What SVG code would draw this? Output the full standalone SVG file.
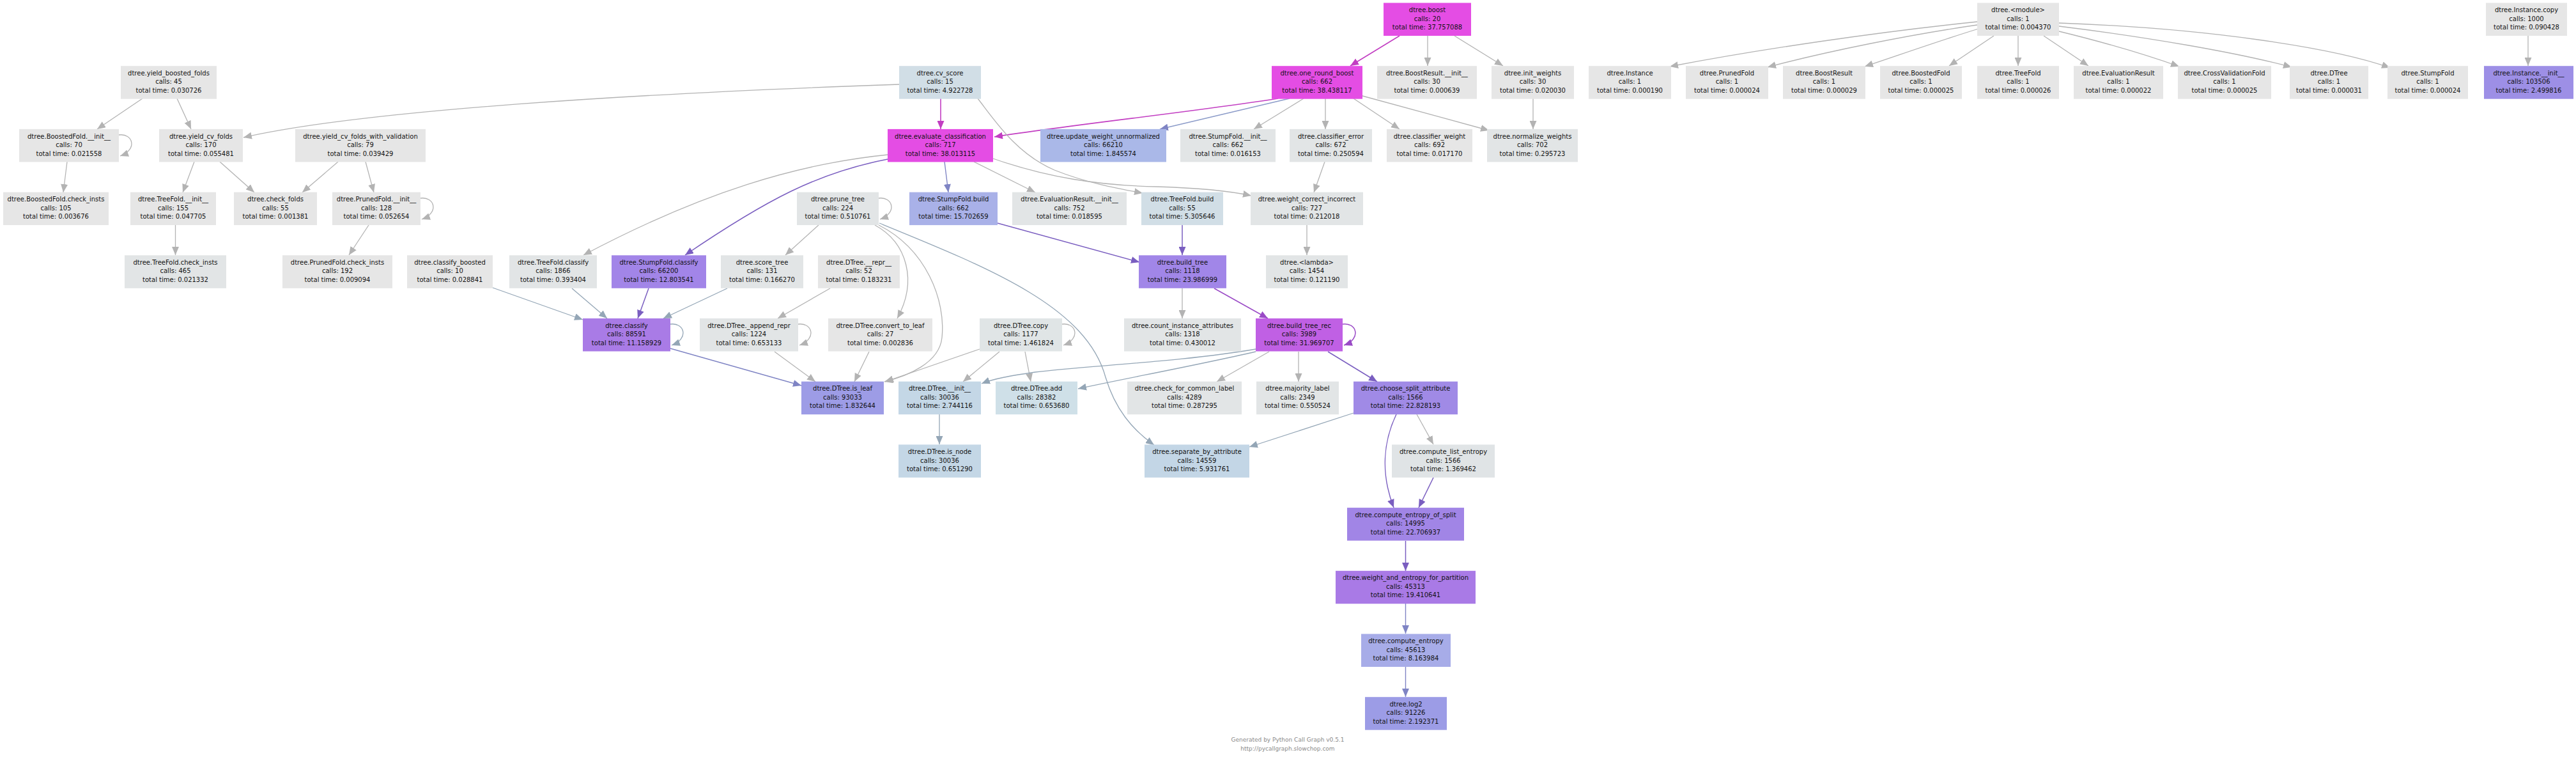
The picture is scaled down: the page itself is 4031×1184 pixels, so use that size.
<svg xmlns="http://www.w3.org/2000/svg" width="4031" height="1184" viewBox="0 0 4031 1184">
<style>
.t{font-family:"DejaVu Sans","Liberation Sans",sans-serif;font-size:10px;text-anchor:middle;fill:#111}
.f{font-family:"DejaVu Sans","Liberation Sans",sans-serif;font-size:9px;text-anchor:middle;fill:#8a8a8a}
.e{fill:none;stroke-width:1.3}
.G{stroke:#b3b3b3;marker-end:url(#mG)}
.M{stroke:#c23ec2;marker-end:url(#mM);stroke-width:1.6}
.P{stroke:#7a5ec0;marker-end:url(#mP);stroke-width:1.5}
.B{stroke:#7f84c4;marker-end:url(#mB);stroke-width:1.4}
.S{stroke:#94a6b6;marker-end:url(#mS)}
.R{stroke:#9a4ac6;marker-end:url(#mR);stroke-width:1.5}
.gr{fill:#e6e6e6}.gb{fill:#e2e5e6}.mag{fill:#e44de4}.lb{fill:#d1dee6}.lb2{fill:#c4d7e6}
</style>
<defs>
<marker id="mG" markerUnits="userSpaceOnUse" markerWidth="13" markerHeight="11" viewBox="0 0 13 11" refX="13" refY="5.5" orient="auto"><path d="M0,0L13,5.5L0,11z" fill="#b3b3b3"/></marker>
<marker id="mM" markerUnits="userSpaceOnUse" markerWidth="13" markerHeight="11" viewBox="0 0 13 11" refX="13" refY="5.5" orient="auto"><path d="M0,0L13,5.5L0,11z" fill="#c23ec2"/></marker>
<marker id="mP" markerUnits="userSpaceOnUse" markerWidth="13" markerHeight="11" viewBox="0 0 13 11" refX="13" refY="5.5" orient="auto"><path d="M0,0L13,5.5L0,11z" fill="#7a5ec0"/></marker>
<marker id="mB" markerUnits="userSpaceOnUse" markerWidth="13" markerHeight="11" viewBox="0 0 13 11" refX="13" refY="5.5" orient="auto"><path d="M0,0L13,5.5L0,11z" fill="#7f84c4"/></marker>
<marker id="mS" markerUnits="userSpaceOnUse" markerWidth="13" markerHeight="11" viewBox="0 0 13 11" refX="13" refY="5.5" orient="auto"><path d="M0,0L13,5.5L0,11z" fill="#94a6b6"/></marker>
<marker id="mR" markerUnits="userSpaceOnUse" markerWidth="13" markerHeight="11" viewBox="0 0 13 11" refX="13" refY="5.5" orient="auto"><path d="M0,0L13,5.5L0,11z" fill="#9a4ac6"/></marker>
</defs>
<rect width="4031" height="1184" fill="#ffffff"/>
<g id="edges">
<path class="e M" d="M2190,56 L2113,103"/>
<path class="e G" d="M2234,56 L2234,103"/>
<path class="e G" d="M2276,56 L2352,103"/>
<path class="e G" d="M3094,34 C2940,50 2760,76 2613,104"/>
<path class="e G" d="M3094,39 C2990,54 2860,80 2766,105"/>
<path class="e G" d="M3096,45 C3040,62 2975,85 2918,104"/>
<path class="e G" d="M3120,56 L3050,103"/>
<path class="e G" d="M3158,56 L3158,103"/>
<path class="e G" d="M3198,56 L3268,103"/>
<path class="e G" d="M3222,49 C3300,68 3365,88 3410,104"/>
<path class="e G" d="M3222,41 C3360,58 3500,82 3586,105"/>
<path class="e G" d="M3222,36 C3450,44 3650,74 3740,106"/>
<path class="e G" d="M3956,56 L3956,103"/>
<path class="e M" d="M2000,154 C1860,176 1700,192 1556,214"/>
<path class="e" stroke="#8a9ac8" stroke-width="1.4" marker-end="url(#mB)" d="M2018,154 L1815,202"/>
<path class="e G" d="M2040,154 L1962,202"/>
<path class="e G" d="M2074,154 L2074,202"/>
<path class="e G" d="M2118,154 L2190,202"/>
<path class="e G" d="M2132,150 C2190,166 2265,186 2330,204"/>
<path class="e G" d="M2399,154 L2399,202"/>
<path class="e M" d="M1472,154 L1472,202"/>
<path class="e G" d="M1407,132 C1000,146 570,172 381,215"/>
<path class="e G" d="M1530,154 C1558,190 1590,240 1650,266 C1700,286 1750,295 1788,302"/>
<path class="e G" d="M1554,248 C1640,278 1720,290 1810,292 C1880,294 1925,299 1958,306"/>
<path class="e B" d="M1478,253 L1484,301"/>
<path class="e G" d="M1524,253 L1620,301"/>
<path class="e G" d="M1389,242 C1250,256 1100,300 913,399"/>
<path class="e P" d="M1389,249 C1280,270 1200,312 1072,399"/>
<path class="e G" d="M223,154 L152,202"/>
<path class="e G" d="M277,154 L299,202"/>
<path class="e G" d="M186,211 C208,208 216,234 188,244"/>
<path class="e G" d="M105,253 L99,301"/>
<path class="e G" d="M304,253 L286,301"/>
<path class="e G" d="M344,253 L398,301"/>
<path class="e G" d="M529,253 L473,301"/>
<path class="e G" d="M572,253 L585,301"/>
<path class="e G" d="M658,310 C680,307 688,333 660,343"/>
<path class="e G" d="M274.5,352 L274.5,399"/>
<path class="e G" d="M577,352 L546,399"/>
<path class="e S" d="M771,450 L912,500"/>
<path class="e S" d="M895,451 L950,498"/>
<path class="e P" d="M1015,451 L998,498"/>
<path class="e S" d="M1138,451 L1038,498"/>
<path class="e S" d="M1049,507 C1071,504 1079,530 1051,540"/>
<path class="e B" d="M1049,545 L1254,603"/>
<path class="e G" d="M1375,310 C1397,307 1405,333 1377,343"/>
<path class="e G" d="M1281,352 L1229,399"/>
<path class="e G" d="M1369,352 C1420,380 1436,440 1404,498"/>
<path class="e G" d="M1375,352 C1450,390 1480,470 1474,528 C1470,568 1420,588 1384,597"/>
<path class="e S" d="M1376,349 C1550,420 1700,480 1730,590 C1745,640 1772,672 1806,696"/>
<path class="e G" d="M1299,451 L1217,498"/>
<path class="e G" d="M1249,507 C1271,504 1279,530 1251,540"/>
<path class="e G" d="M1212,550 L1276,597"/>
<path class="e G" d="M1360,550 L1337,597"/>
<path class="e G" d="M1662,507 C1684,504 1692,530 1664,540"/>
<path class="e G" d="M1533,546 L1385,597"/>
<path class="e G" d="M1564,550 L1507,597"/>
<path class="e G" d="M1604,550 L1613,597"/>
<path class="e S" d="M1965,546 C1850,566 1700,572 1620,582 C1580,588 1556,592 1536,600"/>
<path class="e S" d="M1965,550 C1870,572 1760,592 1687,608"/>
<path class="e G" d="M1986,550 L1904,597"/>
<path class="e G" d="M2032,550 L2032,597"/>
<path class="e P" d="M2078,550 L2155,597"/>
<path class="e R" d="M2101,507 C2123,504 2131,530 2103,540"/>
<path class="e G" d="M1850,451 L1850,498"/>
<path class="e R" d="M1900,451 L1984,498"/>
<path class="e P" d="M1561,349 L1783,410"/>
<path class="e P" d="M1850,352 L1850,399"/>
<path class="e G" d="M2045,352 L2045,399"/>
<path class="e G" d="M2073,253 L2056,301"/>
<path class="e S" d="M1470,648 L1470,695"/>
<path class="e S" d="M2118,646 L1955,699"/>
<path class="e P" d="M2185,648 C2165,690 2160,740 2181,794"/>
<path class="e G" d="M2217,648 L2243,695"/>
<path class="e P" d="M2243,747 L2220,794"/>
<path class="e P" d="M2199.5,846 L2199.5,893"/>
<path class="e B" d="M2199.5,944 L2199.5,991"/>
<path class="e B" d="M2199.5,1043 L2199.5,1090"/>
</g>
<g id="n_boost"><rect class="mag" x="2165" y="4.5" width="137" height="51.5"/><text class="t" x="2233.5" y="19.1">dtree.boost<tspan x="2233.5" dy="13.5">calls: 20</tspan><tspan x="2233.5" dy="13.5">total time: 37.757088</tspan></text></g>
<g id="n_module"><rect class="gr" x="3094" y="4.5" width="128" height="51.5"/><text class="t" x="3158" y="19.1">dtree.&lt;module&gt;<tspan x="3158" dy="13.5">calls: 1</tspan><tspan x="3158" dy="13.5">total time: 0.004370</tspan></text></g>
<g id="n_instance_copy"><rect class="gr" x="3890" y="4.5" width="127" height="51.5"/><text class="t" x="3953.5" y="19.1">dtree.Instance.copy<tspan x="3953.5" dy="13.5">calls: 1000</tspan><tspan x="3953.5" dy="13.5">total time: 0.090428</tspan></text></g>
<g id="n_yield_boosted_folds"><rect class="gr" x="189" y="103.2" width="150" height="51.5"/><text class="t" x="264" y="117.8">dtree.yield_boosted_folds<tspan x="264" dy="13.5">calls: 45</tspan><tspan x="264" dy="13.5">total time: 0.030726</tspan></text></g>
<g id="n_cv_score"><rect class="lb" x="1407" y="103.2" width="128" height="51.5"/><text class="t" x="1471" y="117.8">dtree.cv_score<tspan x="1471" dy="13.5">calls: 15</tspan><tspan x="1471" dy="13.5">total time: 4.922728</tspan></text></g>
<g id="n_one_round_boost"><rect class="mag" x="1990" y="103.2" width="142" height="51.5"/><text class="t" x="2061" y="117.8">dtree.one_round_boost<tspan x="2061" dy="13.5">calls: 662</tspan><tspan x="2061" dy="13.5">total time: 38.438117</tspan></text></g>
<g id="n_boostresult_init"><rect class="gr" x="2155" y="103.2" width="156" height="51.5"/><text class="t" x="2233" y="117.8">dtree.BoostResult.__init__<tspan x="2233" dy="13.5">calls: 30</tspan><tspan x="2233" dy="13.5">total time: 0.000639</tspan></text></g>
<g id="n_init_weights"><rect class="gr" x="2334" y="103.2" width="129" height="51.5"/><text class="t" x="2398.5" y="117.8">dtree.init_weights<tspan x="2398.5" dy="13.5">calls: 30</tspan><tspan x="2398.5" dy="13.5">total time: 0.020030</tspan></text></g>
<g id="n_instance"><rect class="gr" x="2486" y="103.2" width="129" height="51.5"/><text class="t" x="2550.5" y="117.8">dtree.Instance<tspan x="2550.5" dy="13.5">calls: 1</tspan><tspan x="2550.5" dy="13.5">total time: 0.000190</tspan></text></g>
<g id="n_prunedfold"><rect class="gr" x="2638" y="103.2" width="129" height="51.5"/><text class="t" x="2702.5" y="117.8">dtree.PrunedFold<tspan x="2702.5" dy="13.5">calls: 1</tspan><tspan x="2702.5" dy="13.5">total time: 0.000024</tspan></text></g>
<g id="n_boostresult"><rect class="gr" x="2790" y="103.2" width="129" height="51.5"/><text class="t" x="2854.5" y="117.8">dtree.BoostResult<tspan x="2854.5" dy="13.5">calls: 1</tspan><tspan x="2854.5" dy="13.5">total time: 0.000029</tspan></text></g>
<g id="n_boostedfold"><rect class="gr" x="2942" y="103.2" width="128" height="51.5"/><text class="t" x="3006" y="117.8">dtree.BoostedFold<tspan x="3006" dy="13.5">calls: 1</tspan><tspan x="3006" dy="13.5">total time: 0.000025</tspan></text></g>
<g id="n_treefold"><rect class="gr" x="3094" y="103.2" width="128" height="51.5"/><text class="t" x="3158" y="117.8">dtree.TreeFold<tspan x="3158" dy="13.5">calls: 1</tspan><tspan x="3158" dy="13.5">total time: 0.000026</tspan></text></g>
<g id="n_evaluationresult"><rect class="gr" x="3245" y="103.2" width="140" height="51.5"/><text class="t" x="3315" y="117.8">dtree.EvaluationResult<tspan x="3315" dy="13.5">calls: 1</tspan><tspan x="3315" dy="13.5">total time: 0.000022</tspan></text></g>
<g id="n_crossvalidationfold"><rect class="gr" x="3408" y="103.2" width="146" height="51.5"/><text class="t" x="3481" y="117.8">dtree.CrossValidationFold<tspan x="3481" dy="13.5">calls: 1</tspan><tspan x="3481" dy="13.5">total time: 0.000025</tspan></text></g>
<g id="n_dtree"><rect class="gr" x="3583" y="103.2" width="123" height="51.5"/><text class="t" x="3644.5" y="117.8">dtree.DTree<tspan x="3644.5" dy="13.5">calls: 1</tspan><tspan x="3644.5" dy="13.5">total time: 0.000031</tspan></text></g>
<g id="n_stumpfold"><rect class="gr" x="3736" y="103.2" width="126" height="51.5"/><text class="t" x="3799" y="117.8">dtree.StumpFold<tspan x="3799" dy="13.5">calls: 1</tspan><tspan x="3799" dy="13.5">total time: 0.000024</tspan></text></g>
<g id="n_instance_init"><rect fill="#9d8fe6" x="3887" y="103.2" width="140" height="51.5"/><text class="t" x="3957" y="117.8">dtree.Instance.__init__<tspan x="3957" dy="13.5">calls: 103506</tspan><tspan x="3957" dy="13.5">total time: 2.499816</tspan></text></g>
<g id="n_boostedfold_init"><rect class="gr" x="30" y="201.9" width="156" height="51.5"/><text class="t" x="108" y="216.5">dtree.BoostedFold.__init__<tspan x="108" dy="13.5">calls: 70</tspan><tspan x="108" dy="13.5">total time: 0.021558</tspan></text></g>
<g id="n_yield_cv_folds"><rect class="gr" x="249" y="201.9" width="131" height="51.5"/><text class="t" x="314.5" y="216.5">dtree.yield_cv_folds<tspan x="314.5" dy="13.5">calls: 170</tspan><tspan x="314.5" dy="13.5">total time: 0.055481</tspan></text></g>
<g id="n_yield_cv_folds_with_validation"><rect class="gr" x="462" y="201.9" width="204" height="51.5"/><text class="t" x="564" y="216.5">dtree.yield_cv_folds_with_validation<tspan x="564" dy="13.5">calls: 79</tspan><tspan x="564" dy="13.5">total time: 0.039429</tspan></text></g>
<g id="n_evaluate_classification"><rect class="mag" x="1389" y="201.9" width="165" height="51.5"/><text class="t" x="1471.5" y="216.5">dtree.evaluate_classification<tspan x="1471.5" dy="13.5">calls: 717</tspan><tspan x="1471.5" dy="13.5">total time: 38.013115</tspan></text></g>
<g id="n_update_weight_unnormalized"><rect fill="#aab8e8" x="1628" y="201.9" width="197" height="51.5"/><text class="t" x="1726.5" y="216.5">dtree.update_weight_unnormalized<tspan x="1726.5" dy="13.5">calls: 66210</tspan><tspan x="1726.5" dy="13.5">total time: 1.845574</tspan></text></g>
<g id="n_stumpfold_init"><rect class="gb" x="1847" y="201.9" width="149" height="51.5"/><text class="t" x="1921.5" y="216.5">dtree.StumpFold.__init__<tspan x="1921.5" dy="13.5">calls: 662</tspan><tspan x="1921.5" dy="13.5">total time: 0.016153</tspan></text></g>
<g id="n_classifier_error"><rect class="gb" x="2018" y="201.9" width="129" height="51.5"/><text class="t" x="2082.5" y="216.5">dtree.classifier_error<tspan x="2082.5" dy="13.5">calls: 672</tspan><tspan x="2082.5" dy="13.5">total time: 0.250594</tspan></text></g>
<g id="n_classifier_weight"><rect class="gr" x="2170" y="201.9" width="134" height="51.5"/><text class="t" x="2237" y="216.5">dtree.classifier_weight<tspan x="2237" dy="13.5">calls: 692</tspan><tspan x="2237" dy="13.5">total time: 0.017170</tspan></text></g>
<g id="n_normalize_weights"><rect class="gb" x="2327" y="201.9" width="142" height="51.5"/><text class="t" x="2398" y="216.5">dtree.normalize_weights<tspan x="2398" dy="13.5">calls: 702</tspan><tspan x="2398" dy="13.5">total time: 0.295723</tspan></text></g>
<g id="n_boostedfold_check_insts"><rect class="gr" x="5" y="300.6" width="165" height="51.5"/><text class="t" x="87.5" y="315.2">dtree.BoostedFold.check_insts<tspan x="87.5" dy="13.5">calls: 105</tspan><tspan x="87.5" dy="13.5">total time: 0.003676</tspan></text></g>
<g id="n_treefold_init"><rect class="gr" x="204" y="300.6" width="134" height="51.5"/><text class="t" x="271" y="315.2">dtree.TreeFold.__init__<tspan x="271" dy="13.5">calls: 155</tspan><tspan x="271" dy="13.5">total time: 0.047705</tspan></text></g>
<g id="n_check_folds"><rect class="gr" x="366" y="300.6" width="130" height="51.5"/><text class="t" x="431" y="315.2">dtree.check_folds<tspan x="431" dy="13.5">calls: 55</tspan><tspan x="431" dy="13.5">total time: 0.001381</tspan></text></g>
<g id="n_prunedfold_init"><rect class="gr" x="520" y="300.6" width="138" height="51.5"/><text class="t" x="589" y="315.2">dtree.PrunedFold.__init__<tspan x="589" dy="13.5">calls: 128</tspan><tspan x="589" dy="13.5">total time: 0.052654</tspan></text></g>
<g id="n_prune_tree"><rect class="gb" x="1247" y="300.6" width="128" height="51.5"/><text class="t" x="1311" y="315.2">dtree.prune_tree<tspan x="1311" dy="13.5">calls: 224</tspan><tspan x="1311" dy="13.5">total time: 0.510761</tspan></text></g>
<g id="n_stumpfold_build"><rect fill="#a9b1e8" x="1423" y="300.6" width="138" height="51.5"/><text class="t" x="1492" y="315.2">dtree.StumpFold.build<tspan x="1492" dy="13.5">calls: 662</tspan><tspan x="1492" dy="13.5">total time: 15.702659</tspan></text></g>
<g id="n_evaluationresult_init"><rect class="gb" x="1584" y="300.6" width="179" height="51.5"/><text class="t" x="1673.5" y="315.2">dtree.EvaluationResult.__init__<tspan x="1673.5" dy="13.5">calls: 752</tspan><tspan x="1673.5" dy="13.5">total time: 0.018595</tspan></text></g>
<g id="n_treefold_build"><rect class="lb" x="1786" y="300.6" width="128" height="51.5"/><text class="t" x="1850" y="315.2">dtree.TreeFold.build<tspan x="1850" dy="13.5">calls: 55</tspan><tspan x="1850" dy="13.5">total time: 5.305646</tspan></text></g>
<g id="n_weight_correct_incorrect"><rect class="gb" x="1957" y="300.6" width="176" height="51.5"/><text class="t" x="2045" y="315.2">dtree.weight_correct_incorrect<tspan x="2045" dy="13.5">calls: 727</tspan><tspan x="2045" dy="13.5">total time: 0.212018</tspan></text></g>
<g id="n_treefold_check_insts"><rect class="gb" x="195" y="399.3" width="159" height="51.5"/><text class="t" x="274.5" y="413.9">dtree.TreeFold.check_insts<tspan x="274.5" dy="13.5">calls: 465</tspan><tspan x="274.5" dy="13.5">total time: 0.021332</tspan></text></g>
<g id="n_prunedfold_check_insts"><rect class="gr" x="442" y="399.3" width="172" height="51.5"/><text class="t" x="528" y="413.9">dtree.PrunedFold.check_insts<tspan x="528" dy="13.5">calls: 192</tspan><tspan x="528" dy="13.5">total time: 0.009094</tspan></text></g>
<g id="n_classify_boosted"><rect class="gr" x="637" y="399.3" width="134" height="51.5"/><text class="t" x="704" y="413.9">dtree.classify_boosted<tspan x="704" dy="13.5">calls: 10</tspan><tspan x="704" dy="13.5">total time: 0.028841</tspan></text></g>
<g id="n_treefold_classify"><rect class="gb" x="797" y="399.3" width="137" height="51.5"/><text class="t" x="865.5" y="413.9">dtree.TreeFold.classify<tspan x="865.5" dy="13.5">calls: 1866</tspan><tspan x="865.5" dy="13.5">total time: 0.393404</tspan></text></g>
<g id="n_stumpfold_classify"><rect fill="#a285e8" x="957" y="399.3" width="148" height="51.5"/><text class="t" x="1031" y="413.9">dtree.StumpFold.classify<tspan x="1031" dy="13.5">calls: 66200</tspan><tspan x="1031" dy="13.5">total time: 12.803541</tspan></text></g>
<g id="n_score_tree"><rect class="gb" x="1128" y="399.3" width="129" height="51.5"/><text class="t" x="1192.5" y="413.9">dtree.score_tree<tspan x="1192.5" dy="13.5">calls: 131</tspan><tspan x="1192.5" dy="13.5">total time: 0.166270</tspan></text></g>
<g id="n_dtree_repr"><rect class="gr" x="1280" y="399.3" width="128" height="51.5"/><text class="t" x="1344" y="413.9">dtree.DTree.__repr__<tspan x="1344" dy="13.5">calls: 52</tspan><tspan x="1344" dy="13.5">total time: 0.183231</tspan></text></g>
<g id="n_build_tree"><rect fill="#a186e8" x="1782" y="399.3" width="137" height="51.5"/><text class="t" x="1850.5" y="413.9">dtree.build_tree<tspan x="1850.5" dy="13.5">calls: 1118</tspan><tspan x="1850.5" dy="13.5">total time: 23.986999</tspan></text></g>
<g id="n_lambda"><rect class="gb" x="1981" y="399.3" width="128" height="51.5"/><text class="t" x="2045" y="413.9">dtree.&lt;lambda&gt;<tspan x="2045" dy="13.5">calls: 1454</tspan><tspan x="2045" dy="13.5">total time: 0.121190</tspan></text></g>
<g id="n_classify"><rect fill="#a97be6" x="912" y="498" width="137" height="51.5"/><text class="t" x="980.5" y="512.6">dtree.classify<tspan x="980.5" dy="13.5">calls: 88591</tspan><tspan x="980.5" dy="13.5">total time: 11.158929</tspan></text></g>
<g id="n_dtree_append_repr"><rect class="gb" x="1095" y="498" width="154" height="51.5"/><text class="t" x="1172" y="512.6">dtree.DTree._append_repr<tspan x="1172" dy="13.5">calls: 1224</tspan><tspan x="1172" dy="13.5">total time: 0.653133</tspan></text></g>
<g id="n_dtree_convert_to_leaf"><rect class="gr" x="1296" y="498" width="163" height="51.5"/><text class="t" x="1377.5" y="512.6">dtree.DTree.convert_to_leaf<tspan x="1377.5" dy="13.5">calls: 27</tspan><tspan x="1377.5" dy="13.5">total time: 0.002836</tspan></text></g>
<g id="n_dtree_copy"><rect fill="#e0e5e6" x="1533" y="498" width="129" height="51.5"/><text class="t" x="1597.5" y="512.6">dtree.DTree.copy<tspan x="1597.5" dy="13.5">calls: 1177</tspan><tspan x="1597.5" dy="13.5">total time: 1.461824</tspan></text></g>
<g id="n_count_instance_attributes"><rect class="gb" x="1759" y="498" width="183" height="51.5"/><text class="t" x="1850.5" y="512.6">dtree.count_instance_attributes<tspan x="1850.5" dy="13.5">calls: 1318</tspan><tspan x="1850.5" dy="13.5">total time: 0.430012</tspan></text></g>
<g id="n_build_tree_rec"><rect fill="#c060e4" x="1965" y="498" width="136" height="51.5"/><text class="t" x="2033" y="512.6">dtree.build_tree_rec<tspan x="2033" dy="13.5">calls: 3989</tspan><tspan x="2033" dy="13.5">total time: 31.969707</tspan></text></g>
<g id="n_dtree_is_leaf"><rect fill="#9d9ce6" x="1254" y="596.7" width="129" height="51.5"/><text class="t" x="1318.5" y="611.3">dtree.DTree.is_leaf<tspan x="1318.5" dy="13.5">calls: 93033</tspan><tspan x="1318.5" dy="13.5">total time: 1.832644</tspan></text></g>
<g id="n_dtree_init"><rect class="lb2" x="1406" y="596.7" width="129" height="51.5"/><text class="t" x="1470.5" y="611.3">dtree.DTree.__init__<tspan x="1470.5" dy="13.5">calls: 30036</tspan><tspan x="1470.5" dy="13.5">total time: 2.744116</tspan></text></g>
<g id="n_dtree_add"><rect fill="#cfe0e8" x="1558" y="596.7" width="128" height="51.5"/><text class="t" x="1622" y="611.3">dtree.DTree.add<tspan x="1622" dy="13.5">calls: 28382</tspan><tspan x="1622" dy="13.5">total time: 0.653680</tspan></text></g>
<g id="n_check_for_common_label"><rect class="gb" x="1764" y="596.7" width="179" height="51.5"/><text class="t" x="1853.5" y="611.3">dtree.check_for_common_label<tspan x="1853.5" dy="13.5">calls: 4289</tspan><tspan x="1853.5" dy="13.5">total time: 0.287295</tspan></text></g>
<g id="n_majority_label"><rect class="gb" x="1966" y="596.7" width="129" height="51.5"/><text class="t" x="2030.5" y="611.3">dtree.majority_label<tspan x="2030.5" dy="13.5">calls: 2349</tspan><tspan x="2030.5" dy="13.5">total time: 0.550524</tspan></text></g>
<g id="n_choose_split_attribute"><rect fill="#a08ae6" x="2118" y="596.7" width="163" height="51.5"/><text class="t" x="2199.5" y="611.3">dtree.choose_split_attribute<tspan x="2199.5" dy="13.5">calls: 1566</tspan><tspan x="2199.5" dy="13.5">total time: 22.828193</tspan></text></g>
<g id="n_dtree_is_node"><rect class="lb2" x="1406" y="695.4" width="129" height="51.5"/><text class="t" x="1470.5" y="710">dtree.DTree.is_node<tspan x="1470.5" dy="13.5">calls: 30036</tspan><tspan x="1470.5" dy="13.5">total time: 0.651290</tspan></text></g>
<g id="n_separate_by_attribute"><rect fill="#c3d6e6" x="1791" y="695.4" width="164" height="51.5"/><text class="t" x="1873" y="710">dtree.separate_by_attribute<tspan x="1873" dy="13.5">calls: 14559</tspan><tspan x="1873" dy="13.5">total time: 5.931761</tspan></text></g>
<g id="n_compute_list_entropy"><rect fill="#e0e4e6" x="2178" y="695.4" width="161" height="51.5"/><text class="t" x="2258.5" y="710">dtree.compute_list_entropy<tspan x="2258.5" dy="13.5">calls: 1566</tspan><tspan x="2258.5" dy="13.5">total time: 1.369462</tspan></text></g>
<g id="n_compute_entropy_of_split"><rect fill="#a185e6" x="2108" y="794.1" width="183" height="51.5"/><text class="t" x="2199.5" y="808.7">dtree.compute_entropy_of_split<tspan x="2199.5" dy="13.5">calls: 14995</tspan><tspan x="2199.5" dy="13.5">total time: 22.706937</tspan></text></g>
<g id="n_weight_and_entropy_for_partition"><rect fill="#a97ae6" x="2090" y="892.8" width="219" height="51.5"/><text class="t" x="2199.5" y="907.4">dtree.weight_and_entropy_for_partition<tspan x="2199.5" dy="13.5">calls: 45313</tspan><tspan x="2199.5" dy="13.5">total time: 19.410641</tspan></text></g>
<g id="n_compute_entropy"><rect fill="#a7ace8" x="2130" y="991.5" width="140" height="51.5"/><text class="t" x="2200" y="1006.1">dtree.compute_entropy<tspan x="2200" dy="13.5">calls: 45613</tspan><tspan x="2200" dy="13.5">total time: 8.163984</tspan></text></g>
<g id="n_log2"><rect fill="#9c9ce6" x="2136" y="1090.2" width="128" height="51.5"/><text class="t" x="2200" y="1104.8">dtree.log2<tspan x="2200" dy="13.5">calls: 91226</tspan><tspan x="2200" dy="13.5">total time: 2.192371</tspan></text></g>
<g id="footer"><text class="f" x="2015" y="1160">Generated by Python Call Graph v0.5.1</text><text class="f" x="2015" y="1173.5">http://pycallgraph.slowchop.com</text></g>
</svg>
